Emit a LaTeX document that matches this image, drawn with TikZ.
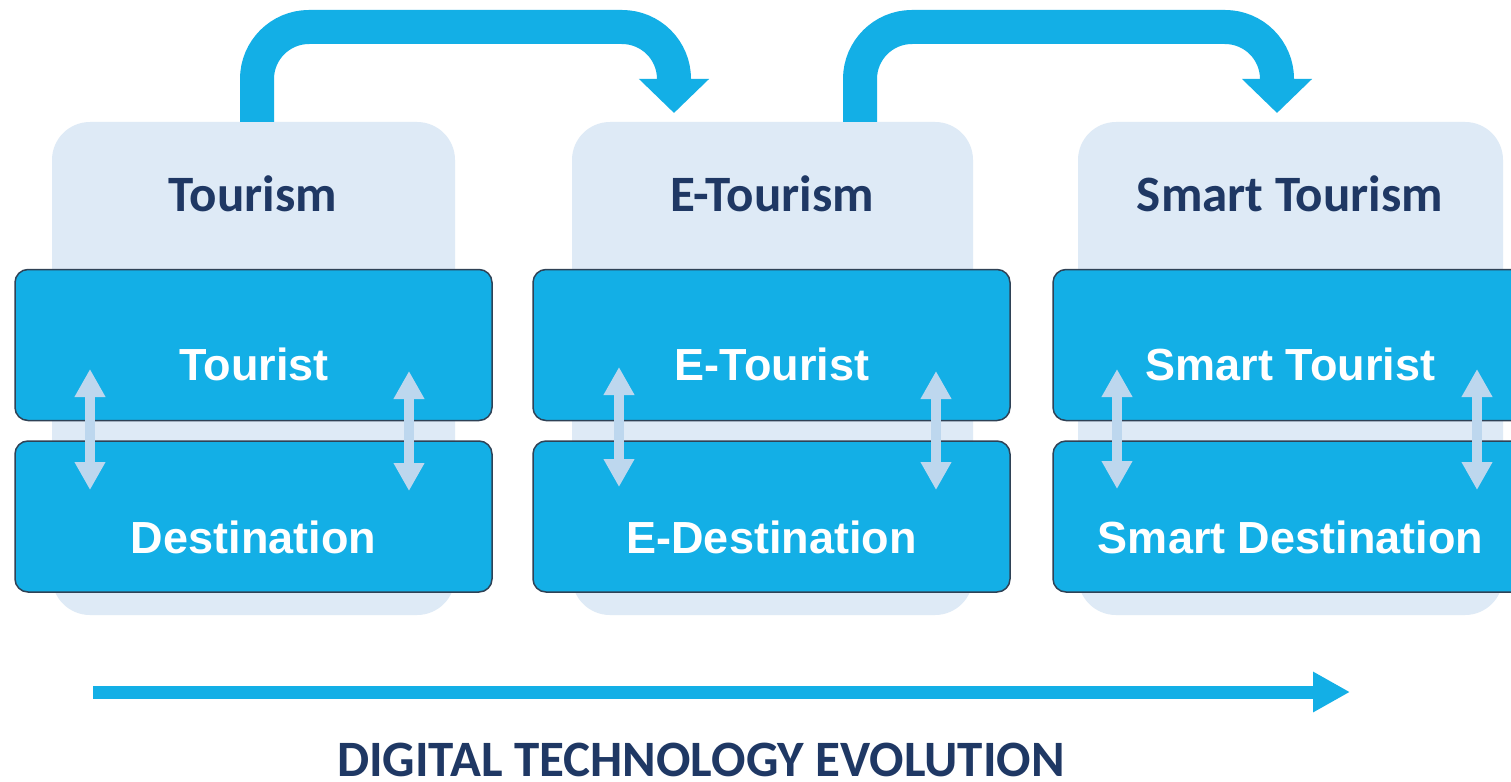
\documentclass[tikz,border=0pt]{standalone}
\usepackage{fontspec}
\usetikzlibrary{arrows.meta}
\newfontfamily\carl{Carlito}
\newfontfamily\arialf{Liberation Sans}
\definecolor{bluebox}{HTML}{13AFE6}
\definecolor{panelc}{HTML}{DEEAF6}
\definecolor{navy}{HTML}{1F3864}
\definecolor{darrow}{HTML}{BDD7EE}
\definecolor{borderc}{HTML}{2F4256}
\begin{document}
\begin{tikzpicture}[x=1pt,y=-1pt,
  panel/.style={fill=panelc,rounded corners=38pt,inner sep=0pt,minimum height=493pt},
  layerbox/.style={fill=bluebox,draw=borderc,line width=1.5pt,rounded corners=13pt,inner sep=0pt,minimum width=477pt,minimum height=151pt},
  titletext/.style={text=navy,font=\carl\bfseries\fontsize{51}{60}\selectfont,inner sep=0pt,anchor=base},
  boxtext/.style={text=white,font=\arialf\bfseries\fontsize{45}{54}\selectfont,inner sep=0pt,anchor=base},
  duo/.style={darrow,line width=10pt,{Triangle[width=29pt,length=28pt]}-{Triangle[width=29pt,length=28pt]}},
  bigarrow/.style={bluebox,line width=34pt,rounded corners=52pt,-{Triangle[width=68pt,length=34pt]}},
]
\useasboundingbox (0,0) rectangle (1511,781);
\fill[white] (0,0) rectangle (1511,781);

% panels
\node[panel,minimum width=403pt] (p1) at (253.5,368.5) {};
\node[panel,minimum width=401pt] (p2) at (772.5,368.5) {};
\node[panel,minimum width=425pt] (p3) at (1290.5,368.5) {};

% titles
\node[titletext] (t1) at (253,211) {Tourism};
\node[titletext] (t2) at (772,211) {E-Tourism};
\node[titletext] (t3) at (1290,211) {Smart Tourism};

% blue boxes
\node[layerbox] (a1) at (253.5,345) {};
\node[layerbox] (b1) at (253.5,516.5) {};
\node[layerbox] (a2) at (771.5,345) {};
\node[layerbox] (b2) at (771.5,516.5) {};
\node[layerbox] (a3) at (1291.5,345) {};
\node[layerbox] (b3) at (1291.5,516.5) {};

\node[boxtext] (ta1) at (254,380) {Tourist};
\node[boxtext] (tb1) at (253.5,553) {Destination};
\node[boxtext] (ta2) at (772,380) {E-Tourist};
\node[boxtext] (tb2) at (771.5,553) {E-Destination};
\node[boxtext] (ta3) at (1290.5,380) {Smart Tourist};
\node[boxtext] (tb3) at (1290.5,553) {Smart Destination};

% double arrows
\coordinate (d1a) at (90,369);  \coordinate (d1b) at (90,490);
\coordinate (d2a) at (409,371); \coordinate (d2b) at (409,491);
\coordinate (d3a) at (619,367); \coordinate (d3b) at (619,487);
\coordinate (d4a) at (936,371); \coordinate (d4b) at (936,490);
\coordinate (d5a) at (1117,369); \coordinate (d5b) at (1117,489);
\coordinate (d6a) at (1477,369); \coordinate (d6b) at (1477,490);
\draw[duo] (d1a) -- (d1b);
\draw[duo] (d2a) -- (d2b);
\draw[duo] (d3a) -- (d3b);
\draw[duo] (d4a) -- (d4b);
\draw[duo] (d5a) -- (d5b);
\draw[duo] (d6a) -- (d6b);

% top curved arrows
\coordinate (s1) at (257,122);
\coordinate (e1) at (674,113);
\coordinate (s2) at (860,122);
\coordinate (e2) at (1277,113);
\draw[bigarrow] (s1) -- (257,27) -- (674,27) -- (e1);
\draw[bigarrow] (s2) -- (860,27) -- (1277,27) -- (e2);

% bottom arrow
\coordinate (ha) at (93,692);
\coordinate (hb) at (1350,692);
\draw[bluebox,line width=13pt,-{Triangle[width=38pt,length=37pt]}] (ha) -- (hb);
\node[titletext] (evo) at (701,776) {DIGITAL TECHNOLOGY EVOLUTION};
\end{tikzpicture}
\end{document}
